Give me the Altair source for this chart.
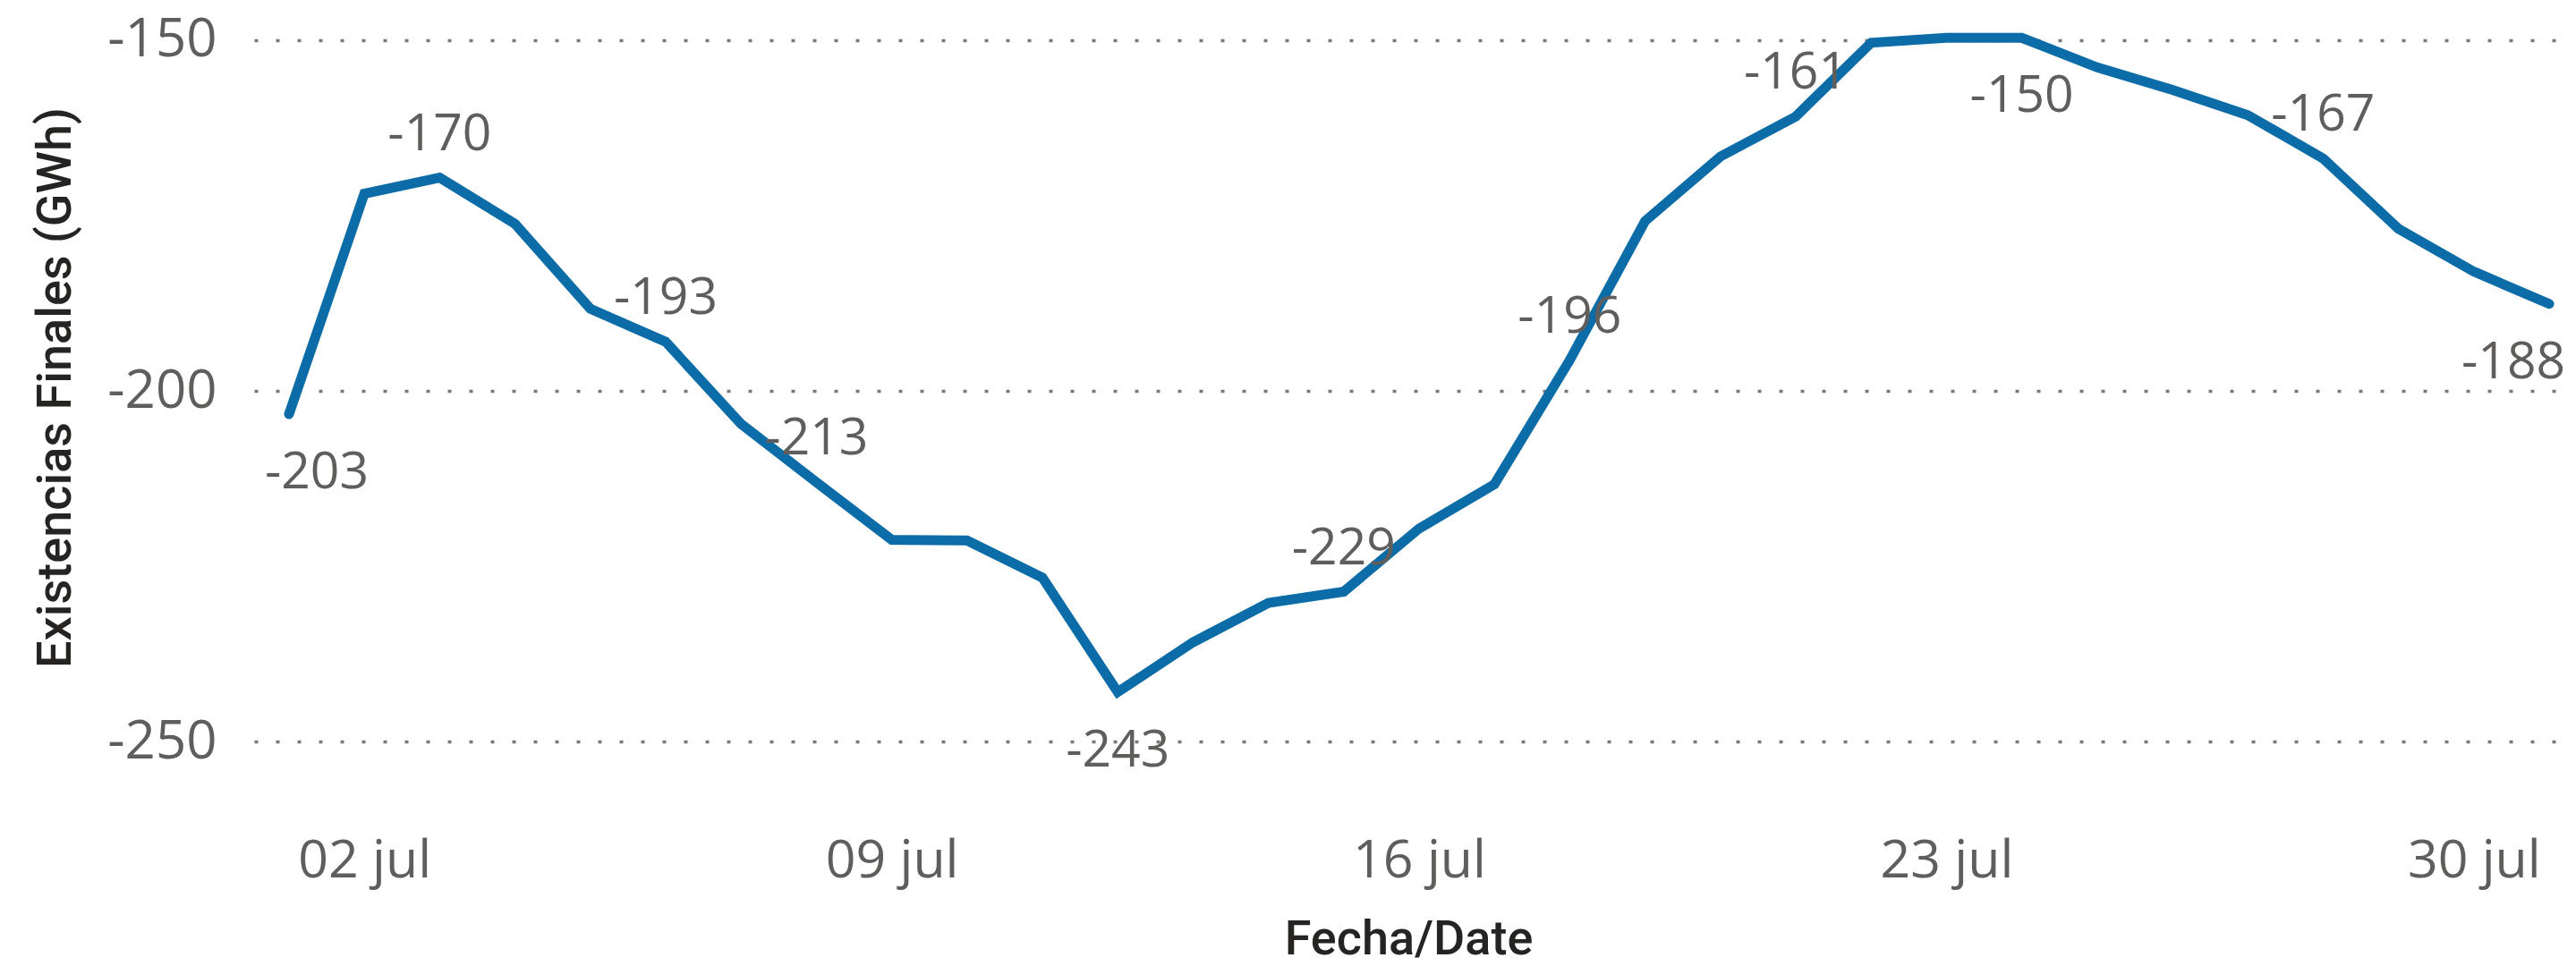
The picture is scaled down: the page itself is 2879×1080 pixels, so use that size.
import altair as alt
import pandas as pd

# Days of July
days = [1, 2, 3, 4, 5, 6, 7, 8, 9, 10, 11, 12, 13, 14, 15, 16,
        17, 18, 19, 20, 21, 22, 23, 24, 25, 26, 27, 28, 29, 30, 31]
# Existencias Finales (GWh)
values = [-203.3, -171.9, -169.6, -176.2, -188.3, -193.0, -204.7, -213.0,
          -221.2, -221.3, -226.6, -242.9, -235.8, -230.2, -228.6, -219.6,
          -213.3, -195.6, -175.8, -166.6, -160.9, -150.4, -149.7, -149.7,
          -153.9, -157.1, -160.7, -166.9, -176.9, -183.0, -187.6]

labels_above = [3, 6, 8, 15, 18, 21, 28]
labels_below = [12, 24]
label_first = [1]
label_last = [31]

x_tick_days = [2, 9, 16, 23, 30]
y_ticks = [-250, -200, -150]

df = pd.DataFrame({"dia": days, "existencias": values})

NUM_FONT = "Open Sans"
TITLE_FONT = "Roboto"
GRAY = "#605E5C"
DARK = "#252423"
BLUE = "#0B6CA8"

x_enc = alt.X(
    "dia:Q",
    scale=alt.Scale(domain=[0.537, 31.178], nice=False, zero=False),
    axis=alt.Axis(
        values=x_tick_days,
        labelExpr="(datum.value < 10 ? '0' : '') + datum.value + ' jul'",
        title="Fecha/Date",
        grid=False, domain=False, ticks=False, tickSize=0,
        labelPadding=80, labelFontSize=59, labelColor=GRAY, labelFont=NUM_FONT,
        labelFlush=False, labelOverlap=False,
        titleFont=TITLE_FONT, titleFontWeight=500, titleFontSize=54,
        titleColor=DARK, titleY=213, titleBaseline="alphabetic",
    ),
)

y_enc = alt.Y(
    "existencias:Q",
    scale=alt.Scale(domain=[-253, -148], nice=False, zero=False),
    axis=alt.Axis(
        values=y_ticks,
        labelExpr="'' + datum.value",
        title="Existencias Finales (GWh)",
        grid=True, gridDash=[4, 20], gridColor="#7a7a7a", gridWidth=3.5,
        domain=False, ticks=False, tickSize=0,
        labelPadding=42, labelFontSize=60, labelColor=GRAY, labelFont=NUM_FONT,
        titleFont=TITLE_FONT, titleFontWeight=500, titleFontSize=54,
        titleColor=DARK, titleX=-206, titleY=404, titleAngle=270,
        titleBaseline="alphabetic", titleAlign="center",
    ),
)

base = alt.Chart(df)

line = base.mark_line(color=BLUE, strokeWidth=11, strokeCap="round").encode(x=x_enc, y=y_enc)


def label_layer(day_list, dx, dy):
    return (
        base.transform_filter(alt.FieldOneOfPredicate(field="dia", oneOf=day_list))
        .transform_calculate(txt="'' + round(datum.existencias)")
        .mark_text(font=NUM_FONT, fontSize=57, color=GRAY, align="center",
                   baseline="middle", dx=dx, dy=dy)
        .encode(x="dia:Q", y="existencias:Q", text="txt:N")
    )


chart = (
    alt.layer(
        line,
        label_layer(labels_above, 0, -48),
        label_layer(labels_below, 0, 66),
        label_layer(label_first, 31, 66),
        label_layer(label_last, -40, 66),
    )
    .properties(
        width=2580,
        height=824,
        autosize=alt.AutoSizeParams(type="none"),
        padding={"left": 276, "top": 21, "right": 7, "bottom": 219},
        background="white",
    )
    .configure_view(stroke=None)
)

chart.save("out.html", embed_options={"renderer": "svg", "actions": False})
